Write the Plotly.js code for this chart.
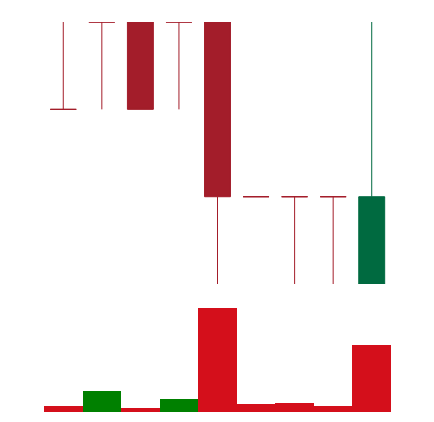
<!DOCTYPE html>
<html>
<head>
<meta charset="utf-8">
<script src="https://cdn.plot.ly/plotly-3.0.1.min.js"></script>
<style>html,body{margin:0;padding:0;background:#fff;}#chart{width:434px;height:422px;}</style>
</head>
<body>
<div id="chart"></div>
<script>
var idx    = [0, 1, 2, 3, 4, 5, 6, 7, 8];
var open   = [12, 13, 13, 13, 13, 11, 11, 11, 10];
var high   = [13, 13, 13, 13, 13, 11, 11, 11, 13];
var low    = [12, 12, 12, 12, 10, 11, 10, 10, 10];
var close  = [12, 13, 12, 13, 11, 11, 11, 11, 11];
var candleDir = ['down', 'down', 'down', 'down', 'down', 'down', 'down', 'down', 'up'];
var volume = [55, 205, 40, 125, 1000, 75, 87, 55, 645];
var volumeDir = ['down', 'up', 'down', 'up', 'down', 'down', 'down', 'down', 'down'];

var RED_C = '#a31d2a', GREEN_C = '#006a40';
var RED_V = '#d40f1b', GREEN_V = '#008000';

function pick(arr, dir) { return arr.filter(function (v, i) { return candleDir[i] === dir; }); }

function candleTrace(dir, col) {
  return {
    type: 'candlestick',
    x: pick(idx, dir), open: pick(open, dir), high: pick(high, dir),
    low: pick(low, dir), close: pick(close, dir),
    increasing: {line: {color: col, width: 1}, fillcolor: col},
    decreasing: {line: {color: col, width: 1}, fillcolor: col},
    whiskerwidth: 0,
    xaxis: 'x', yaxis: 'y', showlegend: false, hoverinfo: 'none'
  };
}

var data = [
  candleTrace('down', RED_C),
  candleTrace('up', GREEN_C),
  {
    type: 'bar', x: idx, y: volume,
    marker: {color: volumeDir.map(function (d) { return d === 'up' ? GREEN_V : RED_V; }), line: {width: 0}},
    xaxis: 'x', yaxis: 'y2', showlegend: false, hoverinfo: 'none'
  }
];

var hidden = {showgrid: false, zeroline: false, showticklabels: false, showline: false, ticks: ''};
var layout = {
  width: 434, height: 422,
  margin: {l: 44, r: 43, t: 22, b: 10},
  paper_bgcolor: '#fff', plot_bgcolor: '#fff',
  bargap: 0,
  boxgap: 0.18, boxgroupgap: 0.18,
  showlegend: false,
  xaxis: Object.assign({range: [-0.5, 8.5], rangeslider: {visible: false}}, hidden),
  yaxis: Object.assign({domain: [0.328, 1], range: [10, 13]}, hidden),
  yaxis2: Object.assign({domain: [0, 0.2667], range: [0, 1000]}, hidden)
};

Plotly.newPlot('chart', data, layout, {displayModeBar: false, staticPlot: true});
</script>
</body>
</html>
